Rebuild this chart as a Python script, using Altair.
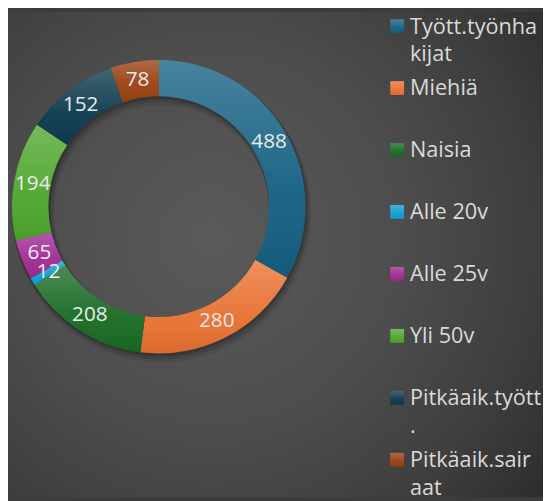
import altair as alt
import pandas as pd

# ---- data ----
categories = ["Tyött.työnhakijat", "Miehiä", "Naisia", "Alle 20v",
              "Alle 25v", "Yli 50v", "Pitkäaik.tyött.", "Pitkäaik.sairaat"]
values = [488, 280, 208, 12, 65, 194, 152, 78]
legend_labels = ["Tyött.työnha\nkijat", "Miehiä", "Naisia", "Alle 20v",
                 "Alle 25v", "Yli 50v", "Pitkäaik.tyött\n.", "Pitkäaik.sair\naat"]
colors = ["#156082", "#E97132", "#196B24", "#0F9ED5",
          "#A02B93", "#4EA72E", "#0D3A4E", "#9A4011"]

# ---- layout / style ----
W, H = 543, 493
CX, CY = 153, 198
R_IN, R_OUT = 112, 149
FONT = "Open Sans"

df = pd.DataFrame({
    "category": categories,
    "value": values,
    "order": list(range(len(categories))),
    "legend": legend_labels,
})
one = pd.DataFrame({"k": [0]})

color_scale = alt.Scale(domain=categories, range=colors)
theta = alt.Theta("value:Q", stack=True)
order = alt.Order("order:Q", sort="ascending")
y_leg = alt.Scale(domain=categories, range=[14.7, 454.8], padding=0)

sheen = alt.LinearGradient(
    gradient="linear",
    stops=[alt.GradientStop(color="rgba(255,255,255,0.22)", offset=0),
           alt.GradientStop(color="rgba(255,255,255,0.04)", offset=0.6),
           alt.GradientStop(color="rgba(0,0,0,0.06)", offset=1)],
    x1=0, y1=0, x2=0, y2=1,
)

background = alt.Chart(one).mark_rect(
    fill=alt.RadialGradient(
        gradient="radial",
        stops=[alt.GradientStop(color="#5a5a5a", offset=0),
               alt.GradientStop(color="#4d4d4d", offset=0.45),
               alt.GradientStop(color="#3e3e3e", offset=0.75),
               alt.GradientStop(color="#2c2c2c", offset=1)],
        x1=0.38, y1=0.47, r1=0, x2=0.38, y2=0.47, r2=0.8,
    )
).encode(x=alt.value(0), x2=alt.value(W), y=alt.value(0), y2=alt.value(H))

shadows = []
for dx, dy, grow, op in [(1, 2, 1, 0.16), (2, 4, 2, 0.11), (3, 6, 3, 0.07)]:
    shadows.append(
        alt.Chart(one).mark_arc(
            innerRadius=R_IN - grow, outerRadius=R_OUT + grow,
            theta=0, theta2=6.2832, color="black", opacity=op,
        ).encode(x=alt.value(CX + dx), y=alt.value(CY + dy))
    )

arcs = alt.Chart(df).mark_arc(innerRadius=R_IN, outerRadius=R_OUT).encode(
    theta=theta,
    order=order,
    color=alt.Color("category:N", scale=color_scale, legend=None),
    x=alt.value(CX), y=alt.value(CY),
)
arcs_sheen = alt.Chart(df).mark_arc(
    innerRadius=R_IN, outerRadius=R_OUT, fill=sheen
).encode(theta=theta, order=order, x=alt.value(CX), y=alt.value(CY))

labels = alt.Chart(df).mark_text(
    radius=130, fontSize=21, font=FONT, color="#ebebeb"
).encode(theta=theta, order=order, text="value:Q",
         x=alt.value(CX), y=alt.value(CY))

leg_sym = alt.Chart(df).mark_square(size=196, opacity=1).encode(
    x=alt.value(395),
    y=alt.Y("category:N", scale=y_leg, axis=None),
    color=alt.Color("category:N", scale=color_scale, legend=None),
)
leg_sym_sheen = alt.Chart(df).mark_square(size=196, opacity=1, fill=sheen).encode(
    x=alt.value(395),
    y=alt.Y("category:N", scale=y_leg, axis=None),
)
leg_text = alt.Chart(df).mark_text(
    align="left", baseline="alphabetic", dy=7.5, lineBreak="\n",
    lineHeight=28, fontSize=22, font=FONT, color="#d9d9d9",
).encode(
    x=alt.value(408),
    y=alt.Y("category:N", scale=y_leg, axis=None),
    text="legend:N",
)

chart = alt.layer(
    background, *shadows, arcs, arcs_sheen, labels, leg_sym, leg_sym_sheen, leg_text
).properties(
    width=W, height=H,
    autosize=alt.AutoSizeParams(type="none"),
    padding=0,
    background="#3c3c3c",
).configure_view(stroke=None)

chart.save("out.html", embed_options={"renderer": "svg", "actions": False})
